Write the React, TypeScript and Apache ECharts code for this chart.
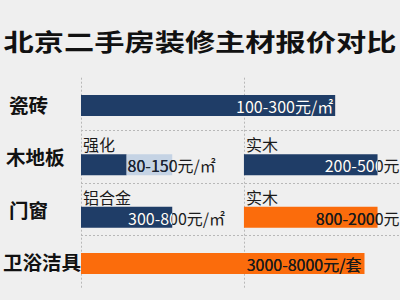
import React, { useEffect, useRef } from 'react';
import * as echarts from 'echarts';

// ---- data ----
const TITLE = '北京二手房装修主材报价对比';
const categories = ['瓷砖', '木地板', '门窗', '卫浴洁具'];
// bar segments (x in column units: 0-50 first column, 50-100 second column)
const segRow = [0, 1, 1, 1, 2, 2, 3];
const segStart = [0, 0, 14, 50, 0, 50, 0];
const segEnd = [78, 14, 28, 91, 28, 91, 87];
const segKind = ['main', 'main', 'light', 'main', 'main', 'accent', 'accent'];
const segLabel = ['100-300元/㎡', '', '80-150元/㎡', '200-500元', '300-800元/㎡', '800-2000元', '3000-8000元/套'];
// sub labels above bars
const subRow = [1, 1, 2, 2];
const subStart = [0, 50, 0, 50];
const subLabel = ['强化', '实木', '铝合金', '实木'];

// ---- layout / style ----
const FONT = '"Noto Sans CJK SC", "Noto Sans", sans-serif';
const OUTSIDE_TEXT = '#1b1b1b';
const KIND_STYLE: Record<string, { fill: string; inside: string }> = {
  main: { fill: '#1f3d67', inside: '#ffffff' },
  light: { fill: '#c5d3e4', inside: '#1b2535' },
  accent: { fill: '#fb6c0c', inside: '#1a1a1a' },
};
// label placement relative to its bar: 'right' = right edge at bar end - dx, 'left' = left edge at bar start + dx
const LABEL_LAYOUT: ({ align: 'left' | 'right'; dx: number } | null)[] = [
  { align: 'right', dx: 2 },
  null,
  { align: 'left', dx: 1 },
  { align: 'right', dx: -22 },
  { align: 'left', dx: 47 },
  { align: 'right', dx: -22 },
  { align: 'right', dx: 3 },
];
const GRID_LINE = { color: '#b8b8b8', type: [2, 2] as number[], width: 1 };
// axis max chosen so that the 100-unit boundary falls just outside the 400px canvas
const X_MAX = (100 * 325) / 332;

const catLabelStyle = (padLeft: number) => ({
  fontSize: 19.5,
  fontWeight: 'bold',
  color: '#111111',
  fontFamily: FONT,
  padding: [0, 0, 0, padLeft],
});

export default function App() {
  const ref = useRef<HTMLDivElement>(null);
  useEffect(() => {
    document.body.style.margin = '0';
    const chart = echarts.init(ref.current!, null, { renderer: 'svg' });
    const subRows = new Set(subRow);

    const option: any = {
      animation: false,
      backgroundColor: '#efefef',
      graphic: [
        {
          type: 'text',
          x: 200,
          y: 40,
          scaleX: 1.26,
          style: {
            text: TITLE,
            x: 0,
            y: 0,
            align: 'center',
            verticalAlign: 'middle',
            fontSize: 24,
            fontWeight: 'bold',
            fontFamily: FONT,
            fill: '#111111',
          },
        },
      ],
      grid: { left: 75, right: 0, top: 77.7, bottom: 11.7 },
      xAxis: {
        type: 'value',
        min: 0,
        max: X_MAX,
        interval: 50,
        axisLabel: { show: false },
        axisLine: { show: false },
        axisTick: { show: false },
        splitLine: { show: true, showMaxLine: false, lineStyle: GRID_LINE },
      },
      yAxis: {
        type: 'category',
        data: categories,
        inverse: true,
        axisLine: { show: false },
        axisTick: { show: false },
        axisLabel: {
          fontSize: 19.5,
          fontWeight: 'bold',
          color: '#111111',
          fontFamily: FONT,
          align: 'left',
          margin: 78,
          formatter: (v: string) => `{${v.length >= 4 ? 'l' : v.length === 3 ? 'm' : 's'}|${v}}`,
          rich: { l: catLabelStyle(0), m: catLabelStyle(3), s: catLabelStyle(6) },
        },
        splitLine: { show: true, showMinLine: false, showMaxLine: false, lineStyle: GRID_LINE },
      },
      series: [
        {
          type: 'custom',
          data: segRow.map((r, i) => [r, segStart[i], segEnd[i], i]),
          encode: { x: [1, 2], y: 0 },
          renderItem: (_params: any, api: any) => {
            const i = api.value(3);
            const row = api.value(0);
            const a = api.coord([api.value(1), row]);
            const b = api.coord([api.value(2), row]);
            const cy = a[1] + (subRows.has(row) ? 8 : 1.5);
            const h = 21;
            const rect = { x: a[0], y: cy - h / 2, width: b[0] - a[0], height: h };
            const st = KIND_STYLE[segKind[i]];
            const children: any[] = [{ type: 'rect', shape: rect, style: { fill: st.fill } }];
            const text = segLabel[i];
            const lay = LABEL_LAYOUT[i];
            if (text && lay) {
              const tx = lay.align === 'right' ? b[0] - lay.dx : a[0] + lay.dx;
              const base = {
                text,
                x: tx,
                y: cy + 0.5,
                align: lay.align,
                verticalAlign: 'middle',
                fontSize: 16,
                fontFamily: FONT,
              };
              children.push({ type: 'text', style: { ...base, fill: OUTSIDE_TEXT } });
              children.push({
                type: 'text',
                clipPath: { type: 'rect', shape: { ...rect } },
                style: { ...base, fill: st.inside },
              });
            }
            return { type: 'group', children };
          },
        },
        {
          type: 'custom',
          data: subRow.map((r, i) => [r, subStart[i], i]),
          encode: { x: 1, y: 0 },
          renderItem: (_params: any, api: any) => {
            const i = api.value(2);
            const row = api.value(0);
            const p = api.coord([api.value(1), row]);
            return {
              type: 'text',
              style: {
                text: subLabel[i],
                x: p[0] + 2,
                y: p[1] - 12.5,
                align: 'left',
                verticalAlign: 'middle',
                fontSize: 16,
                fontFamily: FONT,
                fill: '#1a1a1a',
              },
            };
          },
        },
      ],
    };
    chart.setOption(option);
    return () => chart.dispose();
  }, []);
  return <div ref={ref} style={{ width: 400, height: 300 }} />;
}
